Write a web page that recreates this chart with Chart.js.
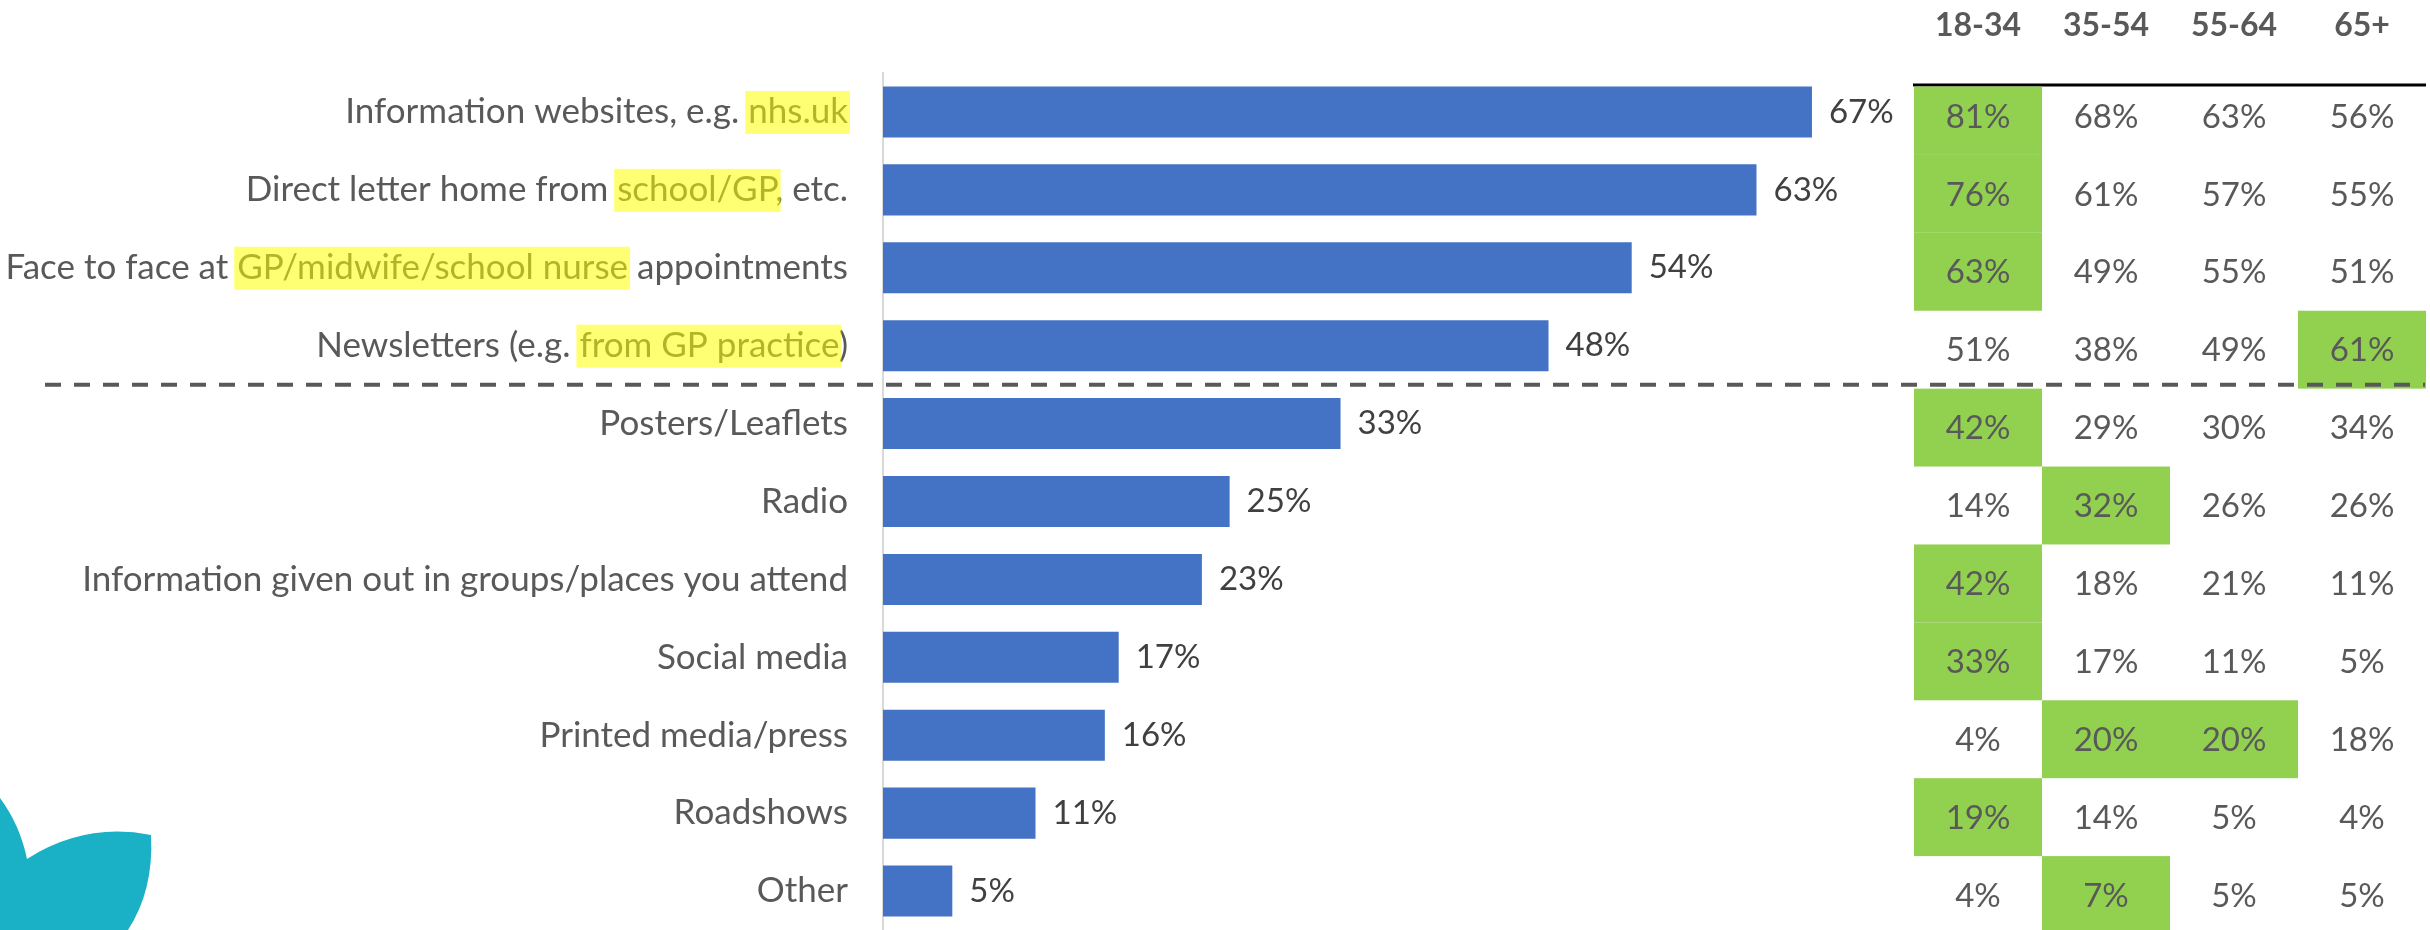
<!DOCTYPE html>
<html>
<head>
<meta charset="utf-8">
<script src="https://cdn.jsdelivr.net/npm/chart.js@4.4.1/dist/chart.umd.min.js"></script>
<style>
  html, body { margin: 0; padding: 0; background: #fff; }
  #wrap { width: 2430px; height: 930px; position: relative; }
</style>
</head>
<body>
<div id="wrap"><canvas id="channels"></canvas></div>
<script>
const categories = [
  'Information websites, e.g. nhs.uk',
  'Direct letter home from school/GP, etc.',
  'Face to face at GP/midwife/school nurse appointments',
  'Newsletters (e.g. from GP practice)',
  'Posters/Leaflets',
  'Radio',
  'Information given out in groups/places you attend',
  'Social media',
  'Printed media/press',
  'Roadshows',
  'Other'
];
// highlighted part of each label (null = none)
const highlights = ['nhs.uk', 'school/GP', 'GP/midwife/school nurse', 'from GP practice',
  null, null, null, null, null, null, null];
const overall = [67, 63, 54, 48, 33, 25, 23, 17, 16, 11, 5];

const ageGroups = ['18-34', '35-54', '55-64', '65+'];
const age18to34 = [81, 76, 63, 51, 42, 14, 42, 33, 4, 19, 4];
const age35to54 = [68, 61, 49, 38, 29, 32, 18, 17, 20, 14, 7];
const age55to64 = [63, 57, 55, 49, 30, 26, 21, 11, 20, 5, 5];
const age65plus = [56, 55, 51, 61, 34, 26, 11, 5, 18, 4, 5];
const ageCols = [age18to34, age35to54, age55to64, age65plus];

const FONT = 'Lato, "Open Sans", sans-serif';
const GREY = '#595959';

// labels, value labels, the age table, divider and the leaf shape
const extras = {
  id: 'extras',
  afterDraw(chart) {
    const ctx = chart.ctx;
    const y = chart.scales.y;
    const area = chart.chartArea;
    const step = y.getPixelForValue(1) - y.getPixelForValue(0);
    ctx.save();

    // category labels with yellow highlight
    ctx.font = '35px ' + FONT;
    ctx.textBaseline = 'middle';
    const right = area.left - 35;
    categories.forEach((txt, i) => {
      const cy = y.getPixelForValue(i);
      ctx.fillStyle = GREY;
      ctx.textAlign = 'right';
      ctx.fillText(txt, right, cy);
      const h = highlights[i];
      if (h) {
        const idx = txt.indexOf(h);
        const x0 = right - ctx.measureText(txt).width + ctx.measureText(txt.slice(0, idx)).width;
        const w = ctx.measureText(h).width;
        ctx.fillStyle = 'rgba(255,255,0,0.55)';
        ctx.fillRect(x0 - 3, cy - 21, w + 5, 43);
      }
    });

    // value labels
    ctx.font = '33px ' + FONT;
    ctx.textAlign = 'left';
    ctx.fillStyle = '#404040';
    chart.getDatasetMeta(0).data.forEach((bar, i) => {
      ctx.fillText(overall[i] + '%', bar.x + 17, bar.y);
    });

    // age table
    const tableLeft = 1914, colW = 128, lineY = 85;
    ctx.textAlign = 'center';
    ctx.font = 'bold 32px ' + FONT;
    ctx.fillStyle = GREY;
    ageGroups.forEach((g, j) => ctx.fillText(g, tableLeft + colW * j + colW / 2, 26));
    ctx.strokeStyle = '#000';
    ctx.lineWidth = 3;
    ctx.beginPath();
    ctx.moveTo(tableLeft - 1, lineY);
    ctx.lineTo(tableLeft + colW * 4, lineY);
    ctx.stroke();

    ctx.font = '33px ' + FONT;
    categories.forEach((_, i) => {
      const cy = y.getPixelForValue(i);
      const top = Math.max(cy - step / 2 + 4, lineY + 1.5);
      const bottom = cy + step / 2 + 4;
      const rowMax = Math.max(...ageCols.map(c => c[i]));
      ageCols.forEach((col, j) => {
        const x = tableLeft + colW * j;
        if (col[i] === rowMax) {
          ctx.fillStyle = '#92D050';
          ctx.fillRect(x, top, colW, bottom - top);
        }
        ctx.fillStyle = GREY;
        ctx.fillText(col[i] + '%', x + colW / 2, cy + 5);
      });
    });

    // dashed divider between the top four and the rest
    const dy = (y.getPixelForValue(3) + y.getPixelForValue(4)) / 2;
    ctx.strokeStyle = GREY;
    ctx.lineWidth = 4;
    ctx.setLineDash([16, 13]);
    ctx.beginPath();
    ctx.moveTo(45, dy);
    ctx.lineTo(2425, dy);
    ctx.stroke();
    ctx.setLineDash([]);

    // teal leaf in the corner
    ctx.fillStyle = '#1AB0C6';
    ctx.beginPath();
    ctx.moveTo(0, 798);
    ctx.quadraticCurveTo(20, 825, 27, 859);
    ctx.quadraticCurveTo(85, 822, 151, 835);
    ctx.quadraticCurveTo(154, 890, 128, 930);
    ctx.lineTo(0, 930);
    ctx.closePath();
    ctx.fill();

    ctx.restore();
  }
};

new Chart(document.getElementById('channels'), {
  type: 'bar',
  data: {
    labels: categories,
    datasets: [{
      data: overall,
      backgroundColor: '#4472C4',
      barPercentage: 0.655,
      categoryPercentage: 1
    }]
  },
  options: {
    indexAxis: 'y',
    responsive: true,
    maintainAspectRatio: false,
    animation: false,
    layout: { padding: { left: 883, right: 521, top: 73, bottom: 0 } },
    plugins: { legend: { display: false }, tooltip: { enabled: false } },
    scales: {
      x: { min: 0, max: 74, display: false },
      y: {
        ticks: { display: false },
        grid: { display: false },
        border: { color: '#d9d9d9', width: 2 },
        afterFit(s) { s.width = 0; }
      }
    }
  },
  plugins: [extras]
});
</script>
</body>
</html>
